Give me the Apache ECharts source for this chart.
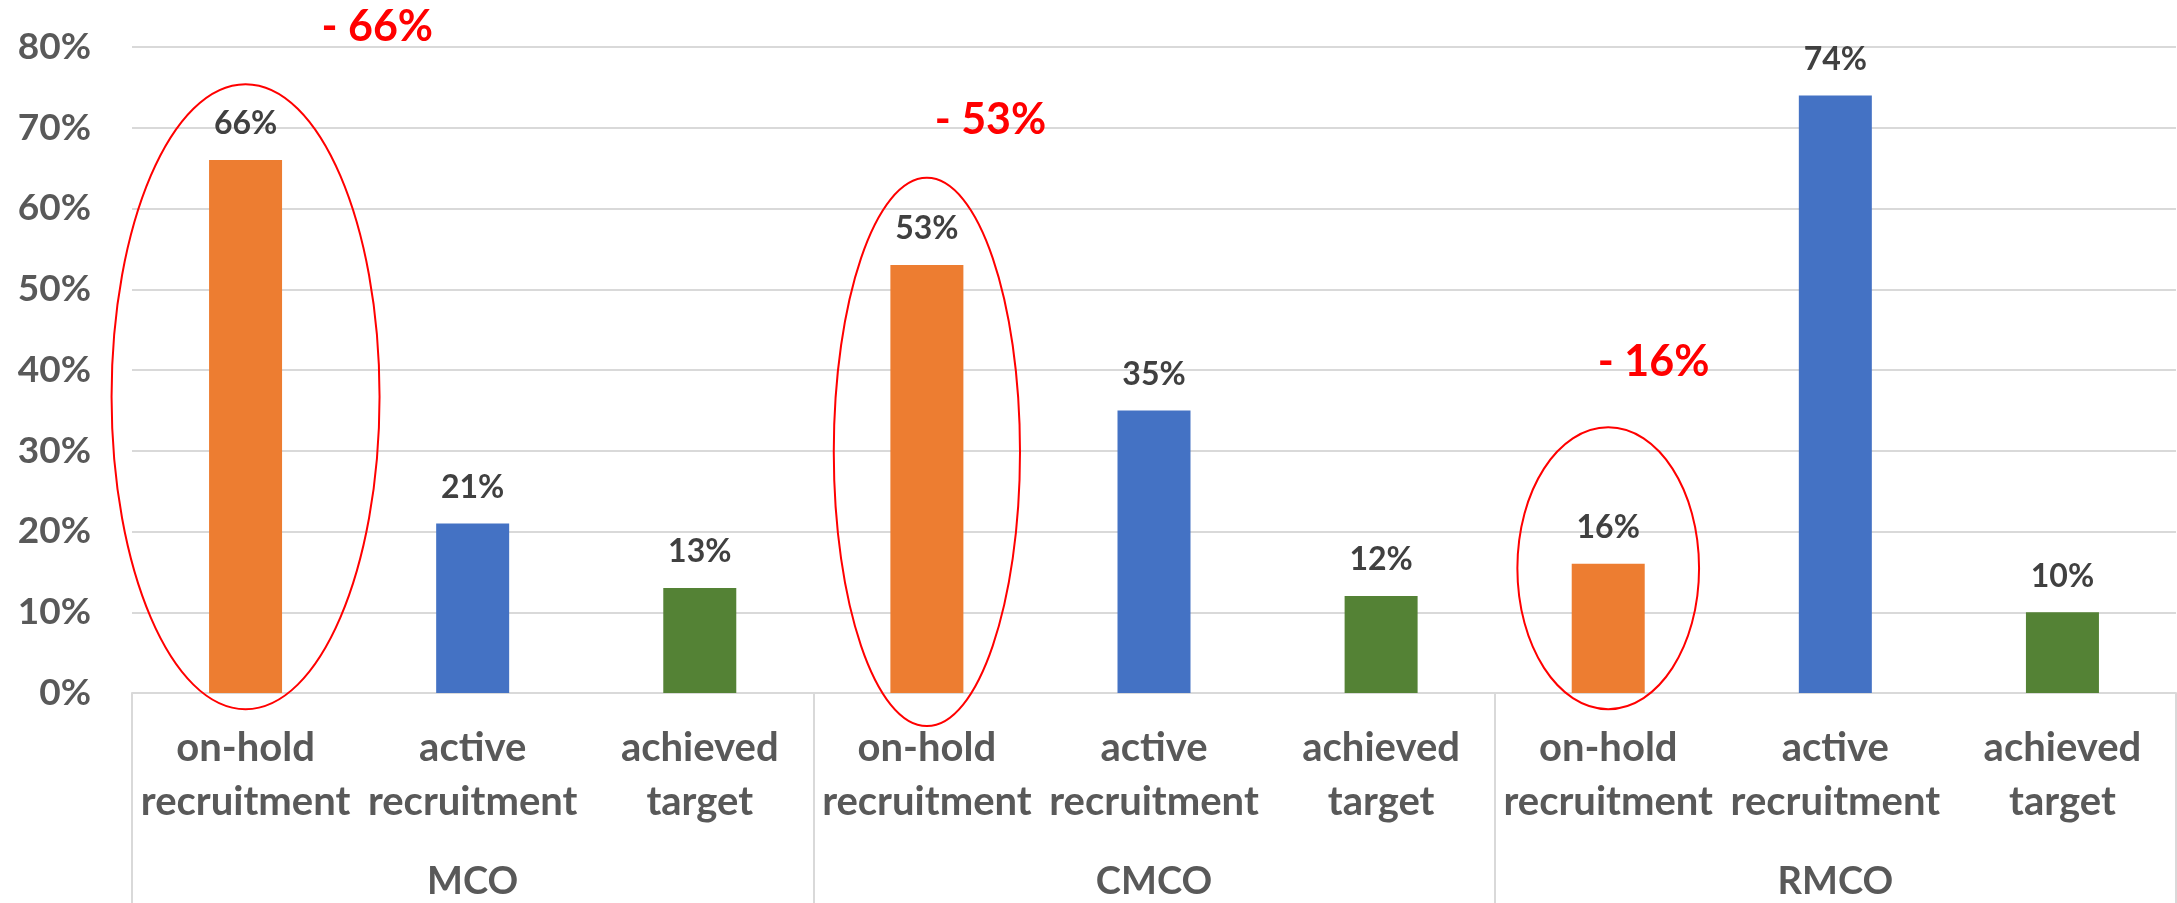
<!DOCTYPE html>
<html>
    <head>
        <meta charset="utf-8">
        <script src="https://cdn.jsdelivr.net/npm/echarts@6/dist/echarts.min.js"></script>
        <style>
            html, body {
                margin: 0;
                padding: 0;
                background-color: #fff;
            }
            #main {
                width: 2177px;
                height: 903px;
            }
        </style>
    </head>
    <body>
        <div id="main"></div>

        <script>
        // data
        const groups = ['MCO', 'CMCO', 'RMCO'];
        const types = ['on-hold\nrecruitment', 'active\nrecruitment', 'achieved\ntarget'];
        const typeColors = ['#ED7D31', '#4472C4', '#548235'];
        const onHold = [66, 53, 16];
        const active = [21, 35, 74];
        const achieved = [13, 12, 10];
        const yTicks = [0, 80, 10]; // min, max, interval

        const FONT = 'Lato';

        // flatten into 9 categories: group x type
        const categories = [];
        const barData = [];
        groups.forEach(function (g, gi) {
            [onHold, active, achieved].forEach(function (arr, ti) {
                categories.push(types[ti]);
                barData.push({
                    value: arr[gi],
                    itemStyle: { color: typeColors[ti] }
                });
            });
        });

        const chart = echarts.init(document.getElementById('main'));
        chart.setOption({
            animation: false,
            grid: {
                left: 132,
                right: 1,
                top: 47,
                bottom: 210,
                containLabel: false
            },
            xAxis: [{
                type: 'category',
                data: categories,
                position: 'bottom',
                axisLine: { lineStyle: { color: '#d9d9d9', width: 2 } },
                axisTick: { show: false },
                axisLabel: {
                    interval: 0,
                    margin: 28,
                    lineHeight: 54,
                    fontFamily: FONT,
                    fontWeight: 'bold',
                    fontSize: 40,
                    color: '#595959'
                }
            }, {
                type: 'category',
                data: groups,
                position: 'bottom',
                axisLine: { show: false },
                axisTick: {
                    show: true,
                    length: 212,
                    lineStyle: { color: '#d9d9d9', width: 2 }
                },
                axisLabel: {
                    interval: 0,
                    margin: 169,
                    lineHeight: 40,
                    fontFamily: FONT,
                    fontWeight: 'bold',
                    fontSize: 38,
                    color: '#595959'
                }
            }],
            yAxis: {
                type: 'value',
                min: yTicks[0],
                max: yTicks[1],
                interval: yTicks[2],
                axisLine: { show: false },
                axisTick: { show: false },
                splitLine: { lineStyle: { color: '#d9d9d9', width: 2 } },
                axisLabel: {
                    formatter: '{value}%',
                    margin: 41,
                    fontFamily: FONT,
                    fontWeight: 'bold',
                    fontSize: 37,
                    color: '#595959'
                }
            },
            series: [{
                type: 'bar',
                xAxisIndex: 0,
                barWidth: 73,
                data: barData,
                label: {
                    show: true,
                    position: 'top',
                    distance: 20,
                    formatter: '{c}%',
                    fontFamily: FONT,
                    fontWeight: 'bold',
                    fontSize: 32,
                    color: '#404040'
                }
            }]
        });

        // red annotations: ellipse around each on-hold bar plus a "- x%" note
        // ellipse: half width in bands, top / bottom in axis values
        const ellipses = [
            { halfBand: 0.59, top: 75.4, bottom: -2 },
            { halfBand: 0.41, top: 63.8, bottom: -4.1 },
            { halfBand: 0.40, top: 32.9, bottom: -2 }
        ];
        // note centre: category offset and axis value
        const notes = [
            { at: 0.58, y: 82.5 },
            { at: 3.28, y: 71 },
            { at: 6.2, y: 41 }
        ];

        // categories repeat, so convert by index, not by name
        const x0 = chart.convertToPixel({ xAxisIndex: 0 }, 0);
        const band = chart.convertToPixel({ xAxisIndex: 0 }, 1) - x0;
        const yPx = function (v) {
            return chart.convertToPixel({ yAxisIndex: 0 }, v);
        };

        const graphics = [];
        groups.forEach(function (g, gi) {
            const e = ellipses[gi];
            const cx = x0 + band * gi * 3;
            const t = yPx(e.top);
            const b = yPx(e.bottom);
            graphics.push({
                type: 'ellipse',
                shape: { cx: cx, cy: (t + b) / 2, rx: band * e.halfBand, ry: (b - t) / 2 },
                style: { fill: null, stroke: '#FF0000', lineWidth: 2 },
                z: 100
            });
            const n = notes[gi];
            graphics.push({
                type: 'text',
                x: x0 + band * n.at,
                y: yPx(n.y),
                style: {
                    text: '- ' + onHold[gi] + '%',
                    fill: '#FF0000',
                    font: 'bold 43px ' + FONT,
                    align: 'center',
                    verticalAlign: 'middle'
                },
                z: 100
            });
        });

        chart.setOption({ graphic: graphics });
        </script>
    </body>
</html>
